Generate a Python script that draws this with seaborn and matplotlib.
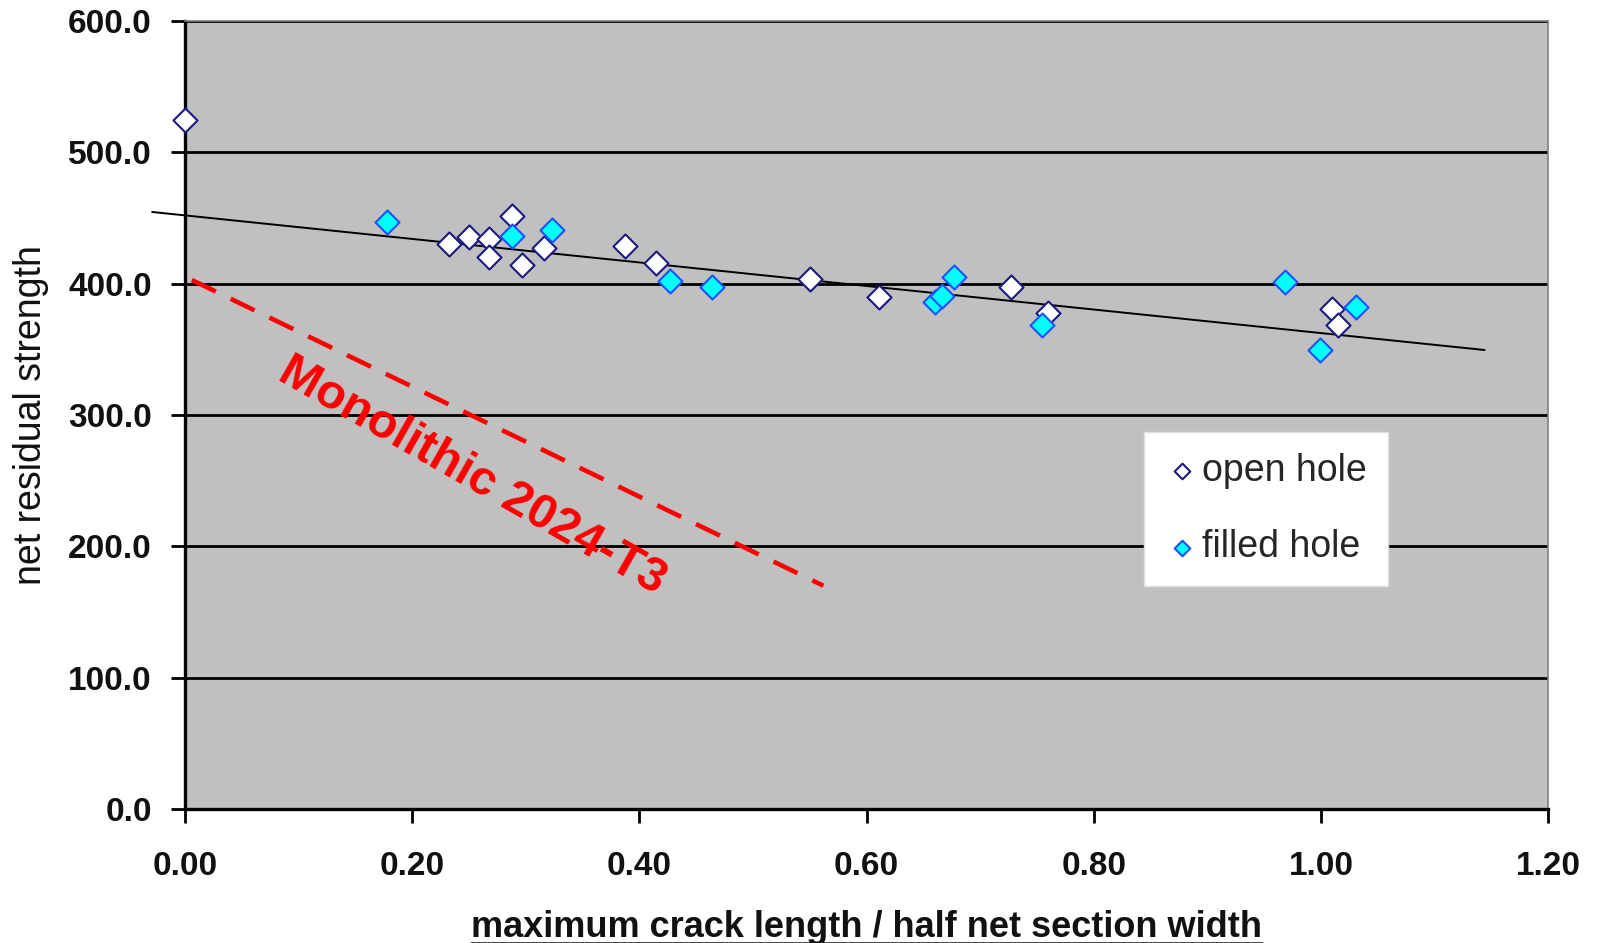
"""Net residual strength vs crack length ratio."""
import pandas as pd
import seaborn as sns
import matplotlib.pyplot as plt
from matplotlib.lines import Line2D
from matplotlib.ticker import FormatStrFormatter

# open hole specimens
open_x = [0.000, 0.232, 0.250, 0.268, 0.268, 0.288, 0.297, 0.316, 0.387,
          0.415, 0.550, 0.611, 0.727, 0.760, 1.010, 1.015]
open_y = [525.0, 430.2, 435.8, 434.0, 420.1, 451.5, 414.2, 427.4, 428.9,
          415.5, 403.6, 390.1, 397.2, 377.4, 380.5, 368.5]

# filled hole specimens
filled_x = [0.178, 0.288, 0.323, 0.427, 0.464, 0.660, 0.666, 0.677, 0.754,
            0.968, 0.999, 1.031]
filled_y = [447.0, 436.3, 440.9, 402.0, 397.2, 385.8, 390.6, 405.3, 368.5,
            401.0, 349.5, 382.0]

# linear trend through all data
trend_x = [-0.029, 1.144]
trend_y = [454.6, 349.5]

# monolithic 2024-T3 reference line
mono_x = [0.006, 0.562]
mono_y = [402.8, 170.0]

df = pd.concat([
    pd.DataFrame({"ratio": open_x, "strength": open_y, "type": "open hole"}),
    pd.DataFrame({"ratio": filled_x, "strength": filled_y, "type": "filled hole"}),
])

sns.set_style("white")
plt.rcParams["font.family"] = ["Liberation Sans", "DejaVu Sans"]

fig = plt.figure(figsize=(15.98, 9.43), dpi=100)
ax = fig.add_axes([0.1158, 0.1421, 0.8530, 0.8356])
ax.set_facecolor("#c0c0c0")

ax.plot(trend_x, trend_y, color="black", lw=1.4, clip_on=False, zorder=2)
ax.plot(mono_x, mono_y, color="#ff0000", lw=3.3, linestyle=(0, (5.8, 3.6)), zorder=2)

sns.scatterplot(
    data=df[df["type"] == "open hole"], x="ratio", y="strength",
    marker="D", s=150, color="white", edgecolor="#1a1a80", linewidth=1.5,
    label="open hole", ax=ax, zorder=3, clip_on=False,
)
sns.scatterplot(
    data=df[df["type"] == "filled hole"], x="ratio", y="strength",
    marker="D", s=150, color="#00ffff", edgecolor="#2050ff", linewidth=1.5,
    label="filled hole", ax=ax, zorder=3,
)

ax.text(0.2526, 253.5, "Monolithic 2024-T3", color="#ff0000", fontsize=35,
        fontweight="bold", rotation=-29.6, rotation_mode="anchor",
        ha="center", va="center")

ax.set_xlim(0, 1.2)
ax.set_ylim(0, 600)
ax.set_xticks([0, 0.2, 0.4, 0.6, 0.8, 1.0, 1.2])
ax.set_yticks(range(0, 601, 100))
ax.xaxis.set_major_formatter(FormatStrFormatter("%.2f"))
ax.yaxis.set_major_formatter(FormatStrFormatter("%.1f"))
ax.yaxis.grid(True, color="black", lw=2.0)
ax.set_axisbelow(True)
ax.tick_params(axis="both", direction="out", length=10, width=2,
               color="black", labelsize=24, labelcolor="#111111")
ax.tick_params(axis="y", pad=14)
ax.tick_params(axis="x", pad=20)
ax.tick_params(left=True, bottom=True)
for lbl in ax.get_xticklabels() + ax.get_yticklabels():
    lbl.set_fontweight("bold")

for side in ["left", "bottom"]:
    ax.spines[side].set_color("black")
    ax.spines[side].set_linewidth(2.4)
for side in ["top", "right"]:
    ax.spines[side].set_color("#808080")
    ax.spines[side].set_linewidth(1.2)

ax.set_ylabel("net residual strength", fontsize=27, color="#111111")
ax.yaxis.set_label_coords(-0.1, 0.5)
ax.set_xlabel("maximum crack length / half net section width", fontsize=26,
              fontweight="bold", color="#111111")
ax.xaxis.set_label_coords(0.5, -0.128)

leg = ax.legend(loc="upper left", bbox_to_anchor=(0.7035, 0.479), fontsize=27,
                frameon=True, fancybox=False, markerscale=0.65,
                labelspacing=1.09, handletextpad=0.1, borderpad=0.56,
                handlelength=0.9, borderaxespad=0)
leg.get_frame().set_facecolor("white")
leg.get_frame().set_edgecolor("#e0e0e0")
leg.get_frame().set_alpha(1.0)

# underline the x axis title
fig.canvas.draw()
bb = ax.xaxis.label.get_window_extent()
fig.add_artist(Line2D([bb.x0 / fig.bbox.width, bb.x1 / fig.bbox.width],
                      [(bb.y0 + 2) / fig.bbox.height] * 2,
                      color="#111111", lw=1.8))

fig.savefig("out.png", dpi=100)
